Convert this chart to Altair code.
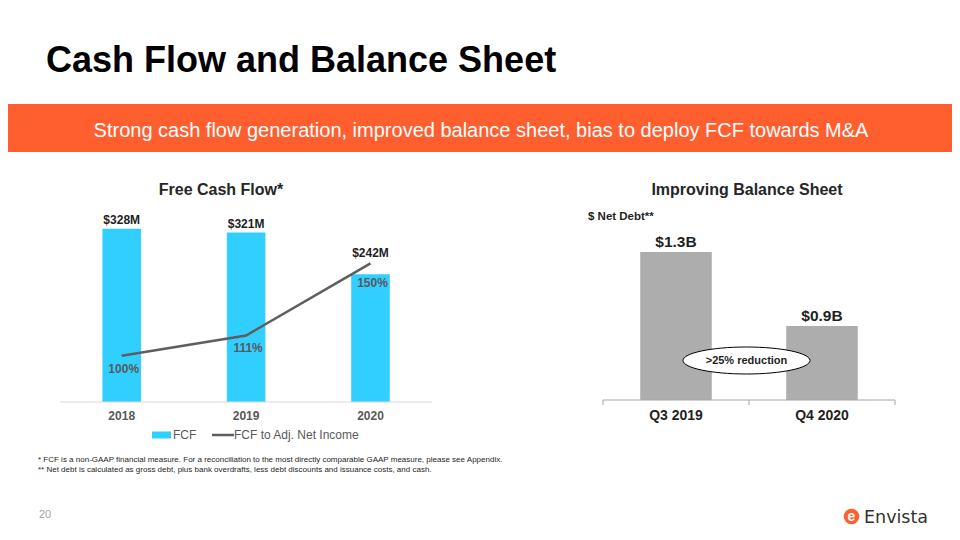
import altair as alt
import pandas as pd

# ---------------- data ----------------
fcf_years = ["2018", "2019", "2020"]
fcf_values = [328, 321, 242]
fcf_labels = ["$328M", "$321M", "$242M"]
ratio_values = [100, 111, 150]
ratio_labels = ["100%", "111%", "150%"]

debt_periods = ["Q3 2019", "Q4 2020"]
debt_values = [1.3, 0.9]
debt_labels = ["$1.3B", "$0.9B"]

title_text = "Cash Flow and Balance Sheet"
banner_text = "Strong cash flow generation, improved balance sheet, bias to deploy FCF towards M&A"
left_title = "Free Cash Flow*"
right_title = "Improving Balance Sheet"
right_subtitle = "$ Net Debt**"
callout_text = ">25% reduction"
legend_fcf = "FCF"
legend_ratio = "FCF to Adj. Net Income"
footnote1 = "* FCF is a non-GAAP financial measure. For a reconciliation to the most directly comparable GAAP measure, please see Appendix."
footnote2 = "** Net debt is calculated as gross debt, plus bank overdrafts, less debt discounts and issuance costs, and cash."
page_number = "20"
logo_text = "Envista"

# ---------------- style ----------------
FONT = "Liberation Sans"
W, H = 944, 524
ORANGE = "#FF5E2F"
CYAN = "#31CFFF"
GRAYBAR = "#ADADAD"
DARK = "#1f1f1f"
MID = "#595959"

fcf = pd.DataFrame({"year": fcf_years, "fcf": fcf_values, "fcf_label": fcf_labels,
                    "ratio": ratio_values, "ratio_label": ratio_labels})
debt = pd.DataFrame({"period": debt_periods, "debt": debt_values, "debt_label": debt_labels})
one = pd.DataFrame({"k": [0]})

xL = alt.Scale(domain=fcf_years, range=[51.5, 424.7], paddingInner=0.69, paddingOuter=0.345)
yBar = alt.Scale(domain=[0, 350], range=[394, 209.2], nice=False, zero=False)
yLine = alt.Scale(domain=[75, 175], range=[394, 209.2], nice=False, zero=False)
xR = alt.Scale(domain=debt_periods, range=[595, 887], paddingInner=0.51, paddingOuter=0.255)
yR = alt.Scale(domain=[0.5, 1.5], range=[392, 207], nice=False, zero=False)

XL = alt.X("year:N", scale=xL, axis=None)
XR = alt.X("period:N", scale=xR, axis=None)


def label(text, x, y, size, color=DARK, weight="normal", align="left", baseline="alphabetic", font=FONT):
    return alt.Chart(one).mark_text(
        text=text, font=font, fontSize=size, fontWeight=weight, color=color,
        align=align, baseline=baseline
    ).encode(x=alt.value(x), y=alt.value(y))


layers = []

# header
layers.append(label(title_text, 38, 64, 36, color="#000000", weight="bold"))
layers.append(alt.Chart(one).mark_rect(color=ORANGE).encode(
    x=alt.value(0), x2=alt.value(W), y=alt.value(96), y2=alt.value(144)))
layers.append(label(banner_text, 473, 129, 20, color="#FFFFFF", align="center"))

# ---------- left chart: Free Cash Flow ----------
layers.append(label(left_title, 213, 187, 16, color="#262626", weight="bold", align="center"))
layers.append(alt.Chart(fcf).mark_bar(color=CYAN).encode(
    x=XL, y=alt.Y("fcf:Q", scale=yBar, axis=None), y2=alt.datum(0)))
layers.append(alt.Chart(one).mark_rule(color="#D9D9D9", strokeWidth=1).encode(
    x=alt.value(52), x2=alt.value(424), y=alt.value(394)))
layers.append(alt.Chart(fcf).mark_line(color="#5E5E5E", strokeWidth=2.5).encode(
    x=XL, y=alt.Y("ratio:Q", scale=yLine, axis=None)))
# value labels
layers.append(alt.Chart(fcf).transform_filter(alt.datum.year != "2020").mark_text(
    font=FONT, fontSize=12, fontWeight="bold", color=DARK, dy=-5, baseline="alphabetic").encode(
    x=XL, y=alt.Y("fcf:Q", scale=yBar, axis=None), text="fcf_label:N"))
layers.append(alt.Chart(fcf).transform_filter(alt.datum.year == "2020").mark_text(
    font=FONT, fontSize=12, fontWeight="bold", color=DARK, dy=-17, baseline="alphabetic").encode(
    x=XL, y=alt.Y("fcf:Q", scale=yBar, axis=None), text="fcf_label:N"))
# ratio labels
layers.append(alt.Chart(fcf).transform_filter(alt.datum.year != "2020").mark_text(
    font=FONT, fontSize=12, fontWeight="bold", color=MID, dy=17, dx=2, baseline="alphabetic").encode(
    x=XL, y=alt.Y("ratio:Q", scale=yLine, axis=None), text="ratio_label:N"))
layers.append(alt.Chart(fcf).transform_filter(alt.datum.year == "2020").mark_text(
    font=FONT, fontSize=12, fontWeight="bold", color=MID, dy=24, dx=2, baseline="alphabetic").encode(
    x=XL, y=alt.Y("ratio:Q", scale=yLine, axis=None), text="ratio_label:N"))
# axis labels
layers.append(alt.Chart(fcf).mark_text(
    font=FONT, fontSize=12, fontWeight="bold", color=MID, baseline="alphabetic").encode(
    x=XL, y=alt.value(412), text="year:N"))
# legend
layers.append(alt.Chart(one).mark_rect(color=CYAN).encode(
    x=alt.value(144), x2=alt.value(163), y=alt.value(423.5), y2=alt.value(430.5)))
layers.append(label(legend_fcf, 165, 431, 12, color=MID))
layers.append(alt.Chart(one).mark_rule(color="#5E5E5E", strokeWidth=2.5).encode(
    x=alt.value(204), x2=alt.value(226), y=alt.value(427)))
layers.append(label(legend_ratio, 226, 431, 12, color=MID))

# ---------- right chart: Net Debt ----------
layers.append(label(right_title, 739, 187, 16, color="#262626", weight="bold", align="center"))
layers.append(label(right_subtitle, 580, 212, 11.5, color=DARK, weight="bold"))
layers.append(alt.Chart(debt).mark_bar(color=GRAYBAR).encode(
    x=XR, y=alt.Y("debt:Q", scale=yR, axis=None), y2=alt.datum(0.5)))
layers.append(alt.Chart(one).mark_rule(color="#A6A6A6", strokeWidth=1).encode(
    x=alt.value(595), x2=alt.value(887), y=alt.value(392)))
for tx in (595, 741, 887):
    layers.append(alt.Chart(one).mark_rule(color="#A6A6A6", strokeWidth=1).encode(
        x=alt.value(tx), y=alt.value(392), y2=alt.value(397)))
layers.append(alt.Chart(debt).mark_text(
    font=FONT, fontSize=15.5, fontWeight="bold", color=DARK, dy=-5, baseline="alphabetic").encode(
    x=XR, y=alt.Y("debt:Q", scale=yR, axis=None), text="debt_label:N"))
layers.append(alt.Chart(debt).mark_text(
    font=FONT, fontSize=14, fontWeight="bold", color=DARK, baseline="alphabetic").encode(
    x=XR, y=alt.value(412), text="period:N"))
# callout ellipse
ell = ("M -1 0 C -1 -0.1174 -0.5523 -0.2126 0 -0.2126 C 0.5523 -0.2126 1 -0.1174 1 0 "
       "C 1 0.1174 0.5523 0.2126 0 0.2126 C -0.5523 0.2126 -1 0.1174 -1 0 Z")
layers.append(alt.Chart(one).mark_point(shape=ell, size=127 * 127, filled=True, fill="#FFFFFF",
                                        stroke="#000000", strokeWidth=1, opacity=1).encode(
    x=alt.value(738.5), y=alt.value(352.5)))
layers.append(label(callout_text, 738.5, 352.5, 11, color=DARK, weight="bold", align="center", baseline="middle"))

# ---------- footer ----------
layers.append(label(footnote1, 30, 454, 8, color="#262626"))
layers.append(label(footnote2, 30, 464, 8, color="#262626"))
layers.append(label(page_number, 31, 510, 11, color="#A6A6A6"))
layers.append(alt.Chart(one).mark_point(shape="circle", size=240, filled=True, color=ORANGE, opacity=1).encode(
    x=alt.value(843.5), y=alt.value(508.5)))
layers.append(label("e", 843.5, 509, 14, color="#FFFFFF", weight="bold", align="center", baseline="middle"))
layers.append(label(logo_text, 856, 515, 17.5, color="#333333", font="DejaVu Sans"))

chart = alt.layer(*layers).resolve_scale(x="independent", y="independent").properties(
    width=W, height=H, padding=0, autosize=alt.AutoSizeParams(type="none")
).configure_view(stroke=None)

chart.save("out.html", embed_options={"renderer": "svg", "actions": False})
